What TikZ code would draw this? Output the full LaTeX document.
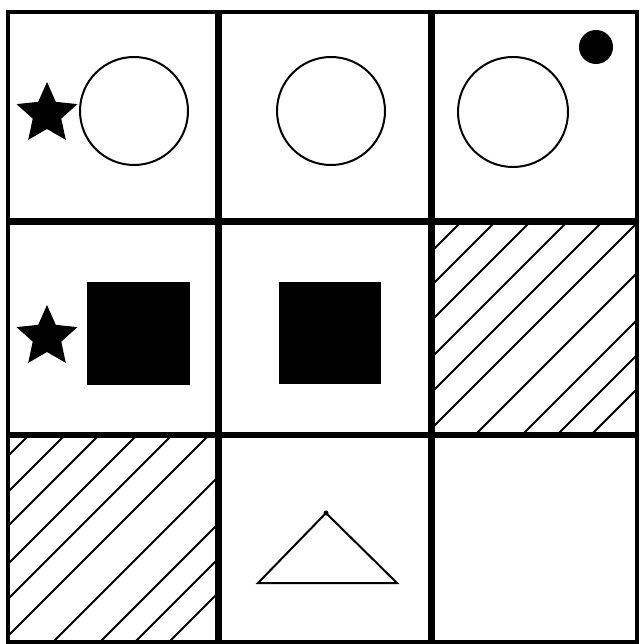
\documentclass[tikz,border=0pt]{standalone}
\begin{document}
\begin{tikzpicture}[x=1pt,y=-1pt,
  gridouter/.style={line width=4pt},
  gridinner/.style={line width=6.5pt},
  ring/.style={line width=2pt},
  hatchline/.style={line width=2pt},
  solid fill/.style={fill=black,draw=none}]
\useasboundingbox[fill=white] (0,0) rectangle (639,644);
% hatching cell (row 2, col 3)
\begin{scope}
  \clip (432,221) rectangle (637,435);
  \foreach \c in {683,717,752,789,824,860,910,957,992,1026}
    \draw[hatchline] ({\c-200},200) -- ({\c-460},460);
\end{scope}
% hatching cell (row 3, col 1)
\begin{scope}
  \clip (8,435) rectangle (219,642);
  \foreach \c in {464,500,534,572,607,644,695,742,777,811}
    \draw[hatchline] ({\c-420},420) -- ({\c-660},660);
\end{scope}
% row 1
\fill[solid fill] \foreach \i in {0,...,4} {
  \ifnum\i=0 ({47+32*cos(90)},{114-32*sin(90)}) \else -- ({47+32*cos(90+72*\i)},{114-32*sin(90+72*\i)}) \fi
  -- ({47+15*cos(126+72*\i)},{114-15*sin(126+72*\i)}) } -- cycle;
\node[circle,draw,ring,minimum size=108pt,inner sep=0pt] (c1) at (134,111) {};
\node[circle,draw,ring,minimum size=108pt,inner sep=0pt] (c2) at (331,111) {};
\node[circle,draw,ring,minimum size=110pt,inner sep=0pt] (c3) at (513,112) {};
\fill (596,47) circle (17);
% row 2
\fill[solid fill] \foreach \i in {0,...,4} {
  \ifnum\i=0 ({47+32*cos(90)},{337-32*sin(90)}) \else -- ({47+32*cos(90+72*\i)},{337-32*sin(90+72*\i)}) \fi
  -- ({47+15*cos(126+72*\i)},{337-15*sin(126+72*\i)}) } -- cycle;
\fill (87,282) rectangle (190,385);
\fill (279,282) rectangle (381,384);
% row 3
\coordinate (tl) at (258,583);
\coordinate (tr) at (397,583);
\coordinate (tt) at (326,513);
\draw[ring,line join=miter] (tl) -- (tr) -- (tt) -- cycle;
\fill (tt) circle (2.5);
% grid
\draw[gridinner] (218.5,12) -- (218.5,642);
\draw[gridinner] (431.5,12) -- (431.5,642);
\draw[gridinner] (8,221.5) -- (637,221.5);
\draw[gridinner] (8,435) -- (637,435);
\draw[gridouter] (8,12) rectangle (637,642);
\end{tikzpicture}
\end{document}
